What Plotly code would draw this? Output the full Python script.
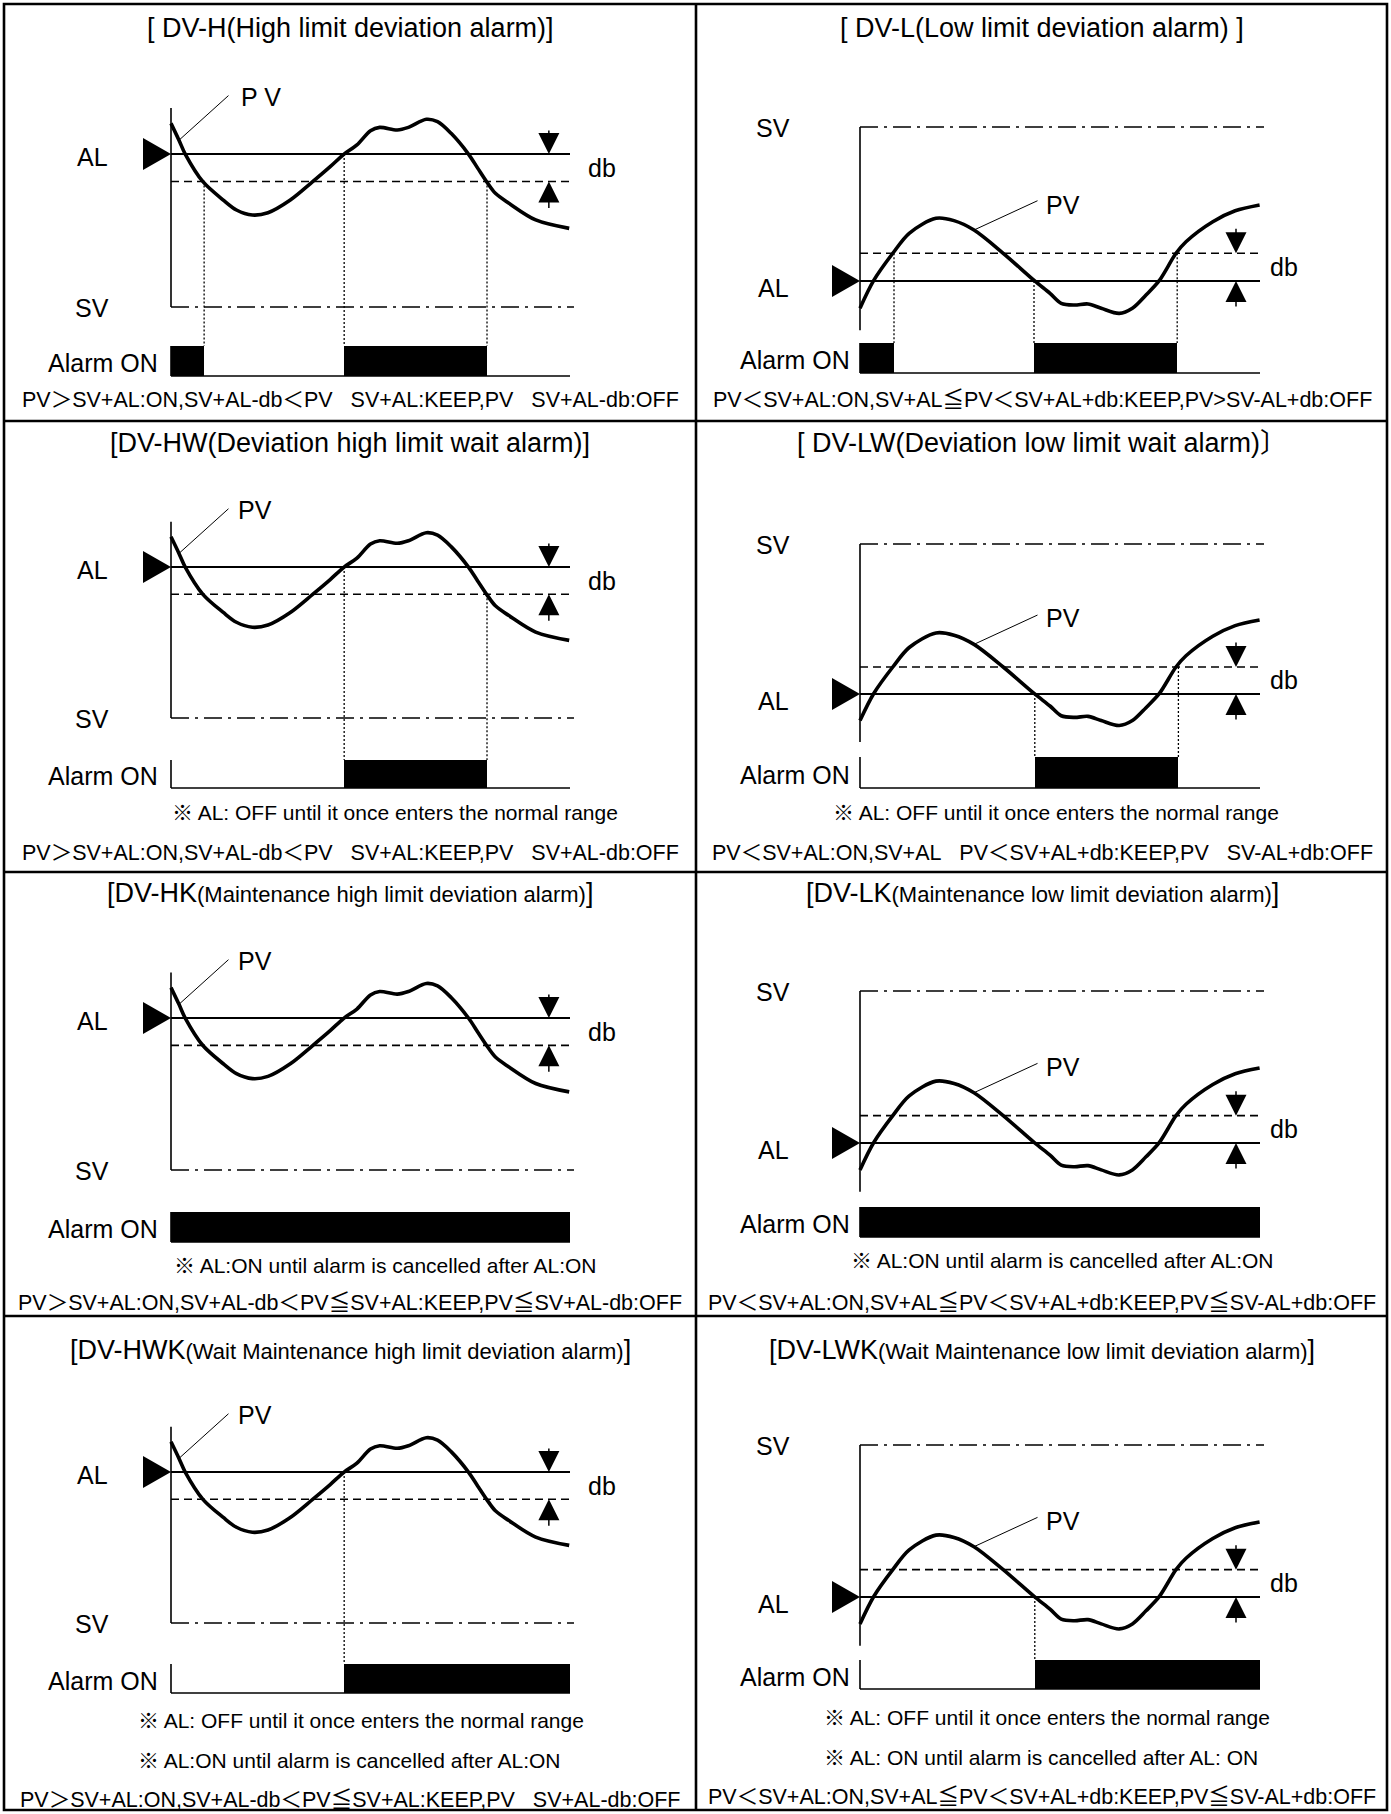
import plotly.graph_objects as go

W, H = 1391, 1814

# ---- values ----------------------------------------------------------------
# time runs 0..100 across every chart
# high type charts: SV = 0, AL = 100, AL-db = 82
pv_high_t = [0.0, 2.0, 3.6, 8.0, 13.1, 16.4, 20.4, 24.3, 29.9, 35.5, 39.9, 43.3, 46.6, 50.0,
             52.3, 56.7, 59.5, 64.0, 66.8, 70.2, 74.6, 76.9, 79.1, 81.3, 84.7, 91.4, 99.8]
pv_high_v = [120.0, 109.0, 99.8, 81.9, 69.9, 63.4, 60.1, 61.6, 69.9, 81.9, 91.7, 99.8, 105.9, 115.2,
             117.4, 115.7, 117.4, 122.7, 121.1, 113.5, 99.8, 90.6, 81.9, 74.3, 67.8, 56.9, 51.4]
# low type charts: SV = 100, AL = 0, AL+db = 18
pv_low_t = [0.0, 3.4, 8.2, 12.3, 19.0, 23.5, 28.5, 35.8, 43.6, 47.5, 50.3, 53.6, 57.0, 60.3,
            64.8, 68.1, 71.5, 74.8, 79.0, 81.5, 88.2, 93.8, 99.9]
pv_low_v = [-17.7, 0.2, 18.0, 31.0, 40.7, 39.2, 33.1, 18.0, 0.2, -8.0, -14.5, -15.6, -14.9, -17.7,
            -21.0, -17.7, -9.1, 0.2, 18.0, 25.5, 38.5, 45.6, 49.4]

high_sv, high_al, high_db = 0, 100, 82
low_sv, low_al, low_db = 100, 0, 18

# alarm ON intervals (start, end) on the time axis
alarm_dv_h = [[0, 8.3], [43.4, 79.2]]
alarm_dv_l = [[0, 8.5], [43.5, 79.3]]
alarm_dv_hw = [[43.4, 79.2]]
alarm_dv_lw = [[43.7, 79.6]]
alarm_dv_hk = [[0, 100]]
alarm_dv_lk = [[0, 100]]
alarm_dv_hwk = [[43.4, 100]]
alarm_dv_lwk = [[43.7, 100]]

SMALL = "<span style=\"font-size:22px\">"
titles = [
    "[ DV-H(High limit deviation alarm)]",
    "[ DV-L(Low limit deviation alarm) ]",
    "[DV-HW(Deviation high limit wait alarm)]",
    "[ DV-LW(Deviation low limit wait alarm)〕",
    f"[DV-HK{SMALL}(Maintenance high limit deviation alarm)</span>]",
    f"[DV-LK{SMALL}(Maintenance low limit deviation alarm)</span>]",
    f"[DV-HWK{SMALL}(Wait Maintenance high limit deviation alarm)</span>]",
    f"[DV-LWK{SMALL}(Wait Maintenance low limit deviation alarm)</span>]",
]
sp = "\u00a0\u00a0\u00a0"
conditions = [
    f"PV＞SV+AL:ON,SV+AL-db＜PV{sp}SV+AL:KEEP,PV{sp}SV+AL-db:OFF",
    "PV＜SV+AL:ON,SV+AL≦PV＜SV+AL+db:KEEP,PV>SV-AL+db:OFF",
    f"PV＞SV+AL:ON,SV+AL-db＜PV{sp}SV+AL:KEEP,PV{sp}SV+AL-db:OFF",
    f"PV＜SV+AL:ON,SV+AL{sp}PV＜SV+AL+db:KEEP,PV{sp}SV-AL+db:OFF",
    "PV＞SV+AL:ON,SV+AL-db＜PV≦SV+AL:KEEP,PV≦SV+AL-db:OFF",
    "PV＜SV+AL:ON,SV+AL≦PV＜SV+AL+db:KEEP,PV≦SV-AL+db:OFF",
    f"PV＞SV+AL:ON,SV+AL-db＜PV≦SV+AL:KEEP,PV{sp}SV+AL-db:OFF",
    "PV＜SV+AL:ON,SV+AL≦PV＜SV+AL+db:KEEP,PV≦SV-AL+db:OFF",
]
note_wait = "※ AL: OFF until it once enters the normal range"
note_keep = "※ AL:ON until alarm is cancelled after AL:ON"
notes = [
    [], [],
    [note_wait], [note_wait],
    [note_keep], [note_keep],
    [note_wait, note_keep], [note_wait, "※ AL: ON until alarm is cancelled after AL: ON"],
]
alarms = [alarm_dv_h, alarm_dv_l, alarm_dv_hw, alarm_dv_lw,
          alarm_dv_hk, alarm_dv_lk, alarm_dv_hwk, alarm_dv_lwk]

# ---- layout geometry (pixels) ----------------------------------------------
cols = [
    dict(px0=171, px1=570, lab_x=92, db_x=602, arrow_t=94.7, on_x=160, pv_x=255, cx=350),
    dict(px0=860, px1=1260, lab_x=773, db_x=1284, arrow_t=94.0, on_x=852, pv_x=1063, cx=1042),
]
# y_al, y_sv, bar top, bar bottom, title y, notes y, condition y, note x
rows_high = [
    (154, 307, 346, 376, 28, [], 400, 0),
    (567, 718, 760, 788, 443, [813], 853, 170),
    (1018, 1170, 1212, 1242, 893, [1265], 1303, 172),
    (1472, 1623, 1664, 1693, 1350, [1720, 1760], 1800, 136),
]
rows_low = [
    (281, 127, 343, 373, 28, [], 400, 0),
    (694, 544, 757, 788, 443, [813], 853, 831),
    (1143, 991, 1207, 1237, 893, [1260], 1303, 849),
    (1597, 1445, 1660, 1689, 1350, [1717, 1757], 1797, 822),
]
XR = [-8, 102]

SANS = "Liberation Sans, Arial, Noto Sans CJK JP"

fig = go.Figure()
shapes, annotations, axes = [], [], {}


def txt(x, y, s, size=25, xanchor="center"):
    annotations.append(dict(xref="paper", yref="paper", x=x / W, y=1 - y / H, text=s,
                            showarrow=False, xanchor=xanchor, yanchor="middle",
                            font=dict(size=size, family=SANS, color="black")))


def names(n):
    return ("x" if n == 1 else f"x{n}"), ("y" if n == 1 else f"y{n}"), \
           ("xaxis" if n == 1 else f"xaxis{n}"), ("yaxis" if n == 1 else f"yaxis{n}")


for i in range(8):
    c = i % 2
    r = i // 2
    col = cols[c]
    high = c == 0
    if high:
        y_al, y_sv, bar_top, bar_bot, ty, nys, cy, nx = rows_high[r]
        sv, al, db = high_sv, high_al, high_db
        pv_t, pv_v = pv_high_t, pv_high_v
        yr = [-3, 133]
        ax_top, ax_bot = 130, sv
    else:
        y_al, y_sv, bar_top, bar_bot, ty, nys, cy, nx = rows_low[r]
        sv, al, db = low_sv, low_al, low_db
        pv_t, pv_v = pv_low_t, pv_low_v
        yr = [-35, 103]
        ax_top, ax_bot = sv, -32

    kx = (col["px1"] - col["px0"]) / 100.0
    xdom = [(col["px0"] + XR[0] * kx) / W, (col["px0"] + XR[1] * kx) / W]

    def ypix(v):
        return y_sv + (v - sv) * (y_al - y_sv) / (al - sv)

    # main chart axes
    n = 2 * i + 1
    xa, ya, xk, yk = names(n)
    axes[xk] = dict(domain=xdom, range=XR, visible=False, anchor=ya, fixedrange=True)
    axes[yk] = dict(domain=[1 - ypix(yr[0]) / H, 1 - ypix(yr[1]) / H], range=yr,
                    visible=False, anchor=xa, fixedrange=True)

    # strip axes (alarm output)
    n2 = 2 * i + 2
    xa2, ya2, xk2, yk2 = names(n2)
    sr = [-0.08, 1.0]
    hb = bar_bot - bar_top
    axes[xk2] = dict(domain=xdom, range=XR, visible=False, anchor=ya2, fixedrange=True)
    axes[yk2] = dict(domain=[1 - (bar_bot + 0.08 * hb) / H, 1 - bar_top / H], range=sr,
                     visible=False, anchor=xa2, fixedrange=True)

    # level lines
    shapes.append(dict(type="line", xref=xa, yref=ya, x0=0, x1=100, y0=al, y1=al,
                       line=dict(color="black", width=2)))
    shapes.append(dict(type="line", xref=xa, yref=ya, x0=0, x1=100, y0=db, y1=db,
                       line=dict(color="black", width=1.6, dash="8px,5px")))
    shapes.append(dict(type="line", xref=xa, yref=ya, x0=0, x1=101, y0=sv, y1=sv,
                       line=dict(color="black", width=1.6, dash="18px,6px,3px,6px")))
    shapes.append(dict(type="line", xref=xa, yref=ya, x0=0, x1=0, y0=ax_bot, y1=ax_top,
                       line=dict(color="black", width=1.6)))
    # AL pointer (triangle whose tip touches the axis at the AL level)
    shapes.append(dict(type="path", xref=xa, yref=ya, xsizemode="pixel", ysizemode="pixel",
                       xanchor=0, yanchor=al, path="M-28,-16 L0,0 L-28,16 Z",
                       fillcolor="black", line=dict(width=0)))

    # PV curve
    fig.add_trace(go.Scatter(x=pv_t, y=pv_v, mode="lines", xaxis=xa, yaxis=ya,
                             line=dict(color="black", width=3.6, shape="spline", smoothing=0.9),
                             hoverinfo="skip"))

    # alarm output bars
    al_iv = alarms[i]
    fig.add_trace(go.Bar(x=[(s + e) / 2 for s, e in al_iv], y=[1] * len(al_iv),
                         width=[e - s for s, e in al_iv], base=0, xaxis=xa2, yaxis=ya2,
                         marker=dict(color="black", line=dict(width=0)), hoverinfo="skip"))
    shapes.append(dict(type="line", xref=xa2, yref=ya2, x0=0, x1=100, y0=0, y1=0,
                       line=dict(color="black", width=1.6)))
    shapes.append(dict(type="line", xref=xa2, yref=ya2, x0=0, x1=0, y0=0, y1=1,
                       line=dict(color="black", width=1.6)))

    # dotted guides from the level where the alarm switches
    for s, e in al_iv:
        if s > 0:
            shapes.append(dict(type="line", xref=xa, yref="paper", x0=s, x1=s,
                               y0=1 - ypix(al) / H, y1=1 - bar_top / H,
                               line=dict(color="black", width=1.3, dash="2px,2px")))
        if e < 100:
            shapes.append(dict(type="line", xref=xa, yref="paper", x0=e, x1=e,
                               y0=1 - ypix(db) / H, y1=1 - bar_top / H,
                               line=dict(color="black", width=1.3, dash="2px,2px")))

    # db arrows
    arr = dict(xref=xa, yref=ya, text="", showarrow=True, arrowhead=2, arrowsize=2.8,
               arrowwidth=1.5, arrowcolor="black", axref="pixel", ayref="pixel", ax=0)
    if high:
        annotations.append(dict(arr, x=col["arrow_t"], y=al, ay=-25))
        annotations.append(dict(arr, x=col["arrow_t"], y=db, ay=28))
        txt(col["db_x"], y_al + 14, "db")
    else:
        annotations.append(dict(arr, x=col["arrow_t"], y=db, ay=-26))
        annotations.append(dict(arr, x=col["arrow_t"], y=al, ay=27))
        txt(col["db_x"], y_al - 14, "db")

    # PV leader line and label
    if high:
        annotations.append(dict(xref=xa, yref=ya, x=pv_t[1], y=pv_v[1], text="", showarrow=True,
                                arrowhead=0, arrowwidth=1, arrowcolor="black",
                                axref="pixel", ayref="pixel", ax=51, ay=-46))
        txt(col["pv_x"] + (6 if r == 0 else 0), y_al - 57, "P V" if r == 0 else "PV")
    else:
        annotations.append(dict(xref=xa, yref=ya, x=pv_t[6], y=pv_v[6], text="", showarrow=True,
                                arrowhead=0, arrowwidth=1, arrowcolor="black",
                                axref="pixel", ayref="pixel", ax=65, ay=-30))
        txt(col["pv_x"], y_al - 76, "PV")

    # labels
    txt(col["lab_x"], y_al + (3 if high else 7), "AL")
    txt(col["lab_x"], y_sv + 1, "SV")
    txt(col["on_x"], (bar_top + bar_bot) / 2 + 2, "Alarm ON", xanchor="right")
    txt(col["cx"], ty, titles[i], size=27)
    for k, ny in enumerate(nys):
        txt(nx, ny, notes[i][k], size=21, xanchor="left")
    txt(col["cx"], cy, conditions[i], size=21.5)

# table frame
bw = 2.6
shapes.append(dict(type="rect", xref="paper", yref="paper", x0=4 / W, x1=1387 / W,
                   y0=1 - 1810 / H, y1=1 - 4 / H, line=dict(color="black", width=bw)))
shapes.append(dict(type="line", xref="paper", yref="paper", x0=696 / W, x1=696 / W,
                   y0=1 - 1810 / H, y1=1 - 4 / H, line=dict(color="black", width=bw)))
for yy in [421, 872, 1316]:
    shapes.append(dict(type="line", xref="paper", yref="paper", x0=4 / W, x1=1387 / W,
                       y0=1 - yy / H, y1=1 - yy / H, line=dict(color="black", width=bw)))

fig.update_layout(
    width=W, height=H,
    margin=dict(l=0, r=0, t=0, b=0),
    paper_bgcolor="white", plot_bgcolor="white",
    showlegend=False, bargap=0,
    shapes=shapes, annotations=annotations,
    **axes,
)

fig.write_html("out.html", config={"displayModeBar": False},
               post_script="document.body.style.margin='0';")
